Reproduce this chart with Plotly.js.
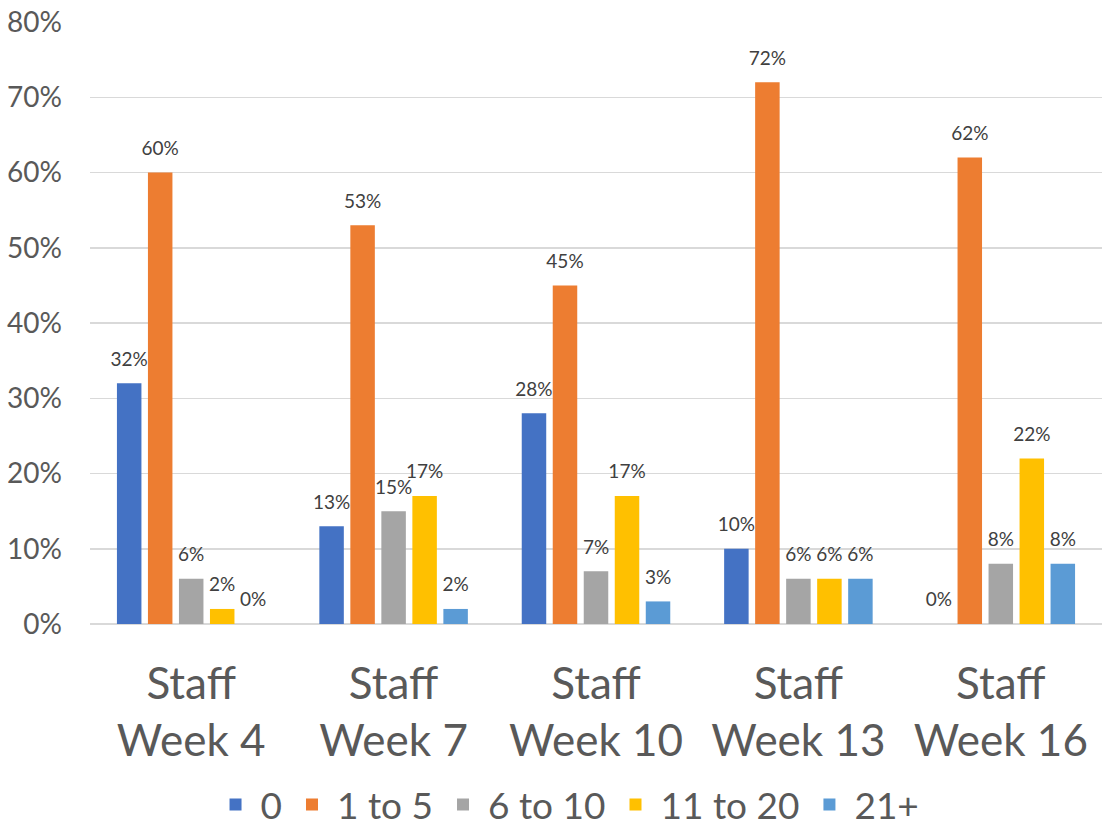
<!DOCTYPE html>
<html>
<head>
<meta charset="utf-8">
<script src="https://cdn.plot.ly/plotly-3.0.1.min.js"></script>
<style>html,body{margin:0;padding:0;background:#fff;}#chart{width:1102px;height:836px;}</style>
</head>
<body>
<div id="chart"></div>
<script>
const categories = ["Staff<br>Week 4", "Staff<br>Week 7", "Staff<br>Week 10", "Staff<br>Week 13", "Staff<br>Week 16"];
const seriesNames = ["0", "1 to 5", "6 to 10", "11 to 20", "21+"];
const s0 = [0.32, 0.13, 0.28, 0.10, 0.00];
const s1to5 = [0.60, 0.53, 0.45, 0.72, 0.62];
const s6to10 = [0.06, 0.15, 0.07, 0.06, 0.08];
const s11to20 = [0.02, 0.17, 0.17, 0.06, 0.22];
const s21plus = [0.00, 0.02, 0.03, 0.06, 0.08];
const yTicks = [0, 0.1, 0.2, 0.3, 0.4, 0.5, 0.6, 0.7, 0.8];

const seriesValues = [s0, s1to5, s6to10, s11to20, s21plus];
const colors = ["#4472C4", "#ED7D31", "#A5A5A5", "#FFC000", "#5B9BD5"];
const FONT = "Lato, 'Open Sans', sans-serif";
const BARGAP = 0.234;

const traces = [];
seriesValues.forEach((vals, i) => {
  traces.push({
    type: "bar", name: seriesNames[i], x: categories, y: vals,
    marker: {color: colors[i]}, offsetgroup: "g" + i, hoverinfo: "skip"
  });
});
seriesValues.forEach((vals, i) => {
  traces.push({
    type: "scatter", mode: "markers+text", x: categories, y: vals,
    offsetgroup: "g" + i, showlegend: false, hoverinfo: "skip",
    marker: {size: 19, color: "rgba(0,0,0,0)"},
    text: vals.map(v => Math.round(v * 100) + "%"),
    textposition: "top center", cliponaxis: false,
    textfont: {family: FONT, size: 19, color: "#404040"}
  });
});

const layout = {
  width: 1102, height: 836,
  margin: {l: 90, r: 0, t: 22, b: 212},
  paper_bgcolor: "#ffffff", plot_bgcolor: "#ffffff",
  barmode: "group", bargap: BARGAP, bargroupgap: 0.21,
  scattermode: "group", scattergap: BARGAP,
  font: {family: FONT, color: "#595959"},
  xaxis: {
    type: "category", tickfont: {family: FONT, size: 44, color: "#595959"},
    showgrid: false, zeroline: false, showline: false, ticks: "",
    ticklabelstandoff: 30
  },
  yaxis: {
    range: [0, 0.8], tickvals: yTicks, tickformat: ".0%",
    tickfont: {family: FONT, size: 28, color: "#595959"},
    showgrid: true, gridcolor: "#D9D9D9", gridwidth: 1.5,
    zeroline: true, zerolinecolor: "#D9D9D9", zerolinewidth: 1.5,
    showline: false, ticks: "", ticklabelstandoff: 27
  },
  legend: {
    orientation: "h", xref: "container", yref: "container",
    x: 0.515, xanchor: "center", y: 0, yanchor: "bottom",
    font: {family: FONT, size: 37, color: "#595959"},
    itemwidth: 40,
    itemclick: false, itemdoubleclick: false
  },
  showlegend: true
};

Plotly.newPlot("chart", traces, layout, {displayModeBar: false, staticPlot: true});
</script>
</body>
</html>
